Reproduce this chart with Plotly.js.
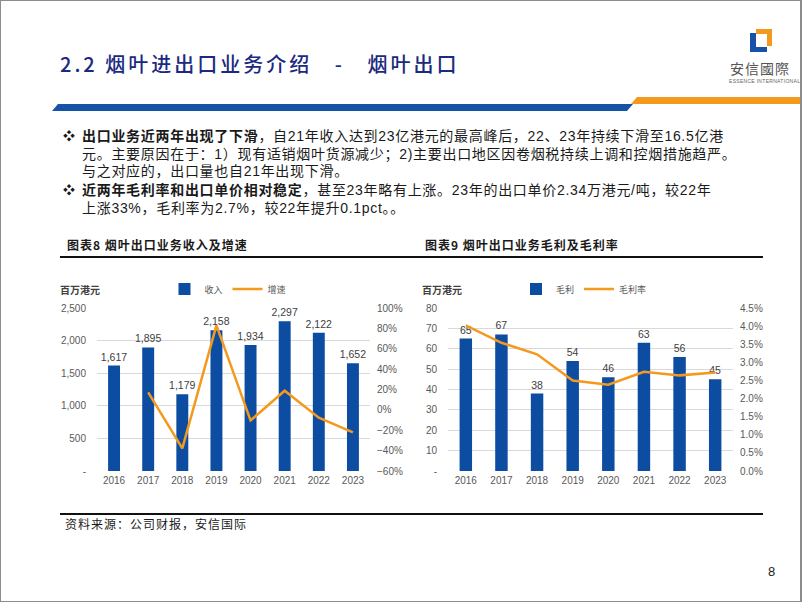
<!DOCTYPE html>
<html>
<head>
<meta charset="utf-8">
<script src="https://cdn.plot.ly/plotly-3.0.1.min.js"></script>
<style>
  html, body { margin: 0; padding: 0; background: #fff; }
  #slide { position: relative; width: 802px; height: 602px; overflow: hidden;
    font-family: "Liberation Sans", "Noto Sans CJK SC", sans-serif; box-sizing: border-box; }
  #frame { position: absolute; left: 0; top: 0; width: 802px; height: 602px; box-sizing: border-box;
    border: 1px solid #8c8c8c; border-right-width: 2px; pointer-events: none; }
  #chart { position: absolute; left: 0; top: 0; width: 802px; height: 602px; }
  .abs { position: absolute; white-space: nowrap; }
  #title { left: 60px; top: 49px; font-size: 20px; color: #1b2a80; font-family: "Noto Sans CJK SC", sans-serif;
    letter-spacing: 3px; font-weight: 500; }
  #blueBar { left: 52px; top: 104px; width: 581px; height: 7px; background: #1552a8;
    clip-path: polygon(6px 0, 100% 0, calc(100% - 6px) 100%, 0 100%); }
  #orangeBar { left: 631px; top: 97px; width: 171px; height: 7px; background: #f39a1e;
    clip-path: polygon(6px 0, 100% 0, 100% 100%, 0 100%); }
  .logoB { position: absolute; background: #1552a8; }
  .logoO { position: absolute; background: #f39a1e; }
  #logoTxt { left: 730px; top: 60px; font-size: 14px; line-height: 16px; color: #555;
    font-family: "Noto Sans CJK TC", sans-serif; letter-spacing: 1px; }
  #logoSub { left: 729px; top: 78px; font-size: 5px; line-height: 6px; color: #666; letter-spacing: 0.3px; }
  .bullets { left: 63px; font-size: 14px; line-height: 17px; color: #1a1a1a; letter-spacing: 0.7px; }
  .bullets .mk { display: inline-block; width: 19px; letter-spacing: 0; font-size: 12px; }
  .bullets .ind { display: inline-block; width: 19px; }
  .bullets b { font-family: "Noto Sans CJK SC", sans-serif; font-weight: 700; }
  .head { font-size: 12px; font-weight: 700; color: #1a1a1a; letter-spacing: 1px; font-family: "Noto Sans CJK SC", sans-serif; }
  #rule1 { left: 60px; top: 256px; width: 703px; height: 1.5px; background: #111; }
  #rule2 { left: 60px; top: 513px; width: 703px; height: 1.5px; background: #111; }
  #source { left: 65px; top: 515px; font-size: 12px; color: #1a1a1a; letter-spacing: 1px; font-family: "Noto Sans CJK SC", sans-serif; }
  #page { left: 768px; top: 564px; font-size: 13px; color: #222; }
</style>
</head>
<body>
<div id="slide">
  <div id="chart"></div>

  <div class="abs" id="title">2.2 烟叶进出口业务介绍&nbsp;&nbsp;&nbsp;-&nbsp;&nbsp;&nbsp;烟叶出口</div>
  <div class="abs" id="blueBar"></div>
  <div class="abs" id="orangeBar"></div>

  <div class="logoO" style="left:756px;top:29px;width:16px;height:5px;"></div>
  <div class="logoO" style="left:767px;top:29px;width:5px;height:17px;"></div>
  <div class="logoB" style="left:750px;top:33px;width:6px;height:19px;"></div>
  <div class="logoB" style="left:750px;top:47px;width:17px;height:5px;"></div>
  <div class="abs" id="logoTxt">安信國際</div>
  <div class="abs" id="logoSub">ESSENCE INTERNATIONAL</div>

  <div class="abs bullets" style="top:127px;">
    <span class="mk">❖</span><b>出口业务近两年出现了下滑</b>，自21年收入达到23亿港元的最高峰后，22、23年持续下滑至16.5亿港<br>
    <span class="ind"></span>元。主要原因在于：1）现有适销烟叶货源减少；2)主要出口地区因卷烟税持续上调和控烟措施趋严。<br>
    <span class="ind"></span>与之对应的，出口量也自21年出现下滑。
  </div>
  <div class="abs bullets" style="top:181px;">
    <span class="mk">❖</span><b>近两年毛利率和出口单价相对稳定</b>，甚至23年略有上涨。23年的出口单价2.34万港元/吨，较22年<br>
    <span class="ind"></span>上涨33%，毛利率为2.7%，较22年提升0.1pct。。
  </div>

  <div class="abs head" style="left:67px;top:236px;">图表8 烟叶出口业务收入及增速</div>
  <div class="abs head" style="left:425px;top:236px;">图表9 烟叶出口业务毛利及毛利率</div>
  <div class="abs" id="rule1"></div>

  <div class="abs" id="rule2"></div>
  <div class="abs" id="source">资料来源：公司财报，安信国际</div>
  <div class="abs" id="page">8</div>
  <div id="frame"></div>
</div>

<script>
// years shared by both charts
const years = ['2016', '2017', '2018', '2019', '2020', '2021', '2022', '2023'];

// chart 8: export revenue (HKD mn) and growth (%)
const revenue = [1617, 1895, 1179, 2158, 1934, 2297, 2122, 1652];
const growth = [null, 17.2, -37.8, 83.0, -10.4, 18.8, -7.6, -22.1];
const revTicks = [0, 500, 1000, 1500, 2000, 2500];
const revTickText = ['-', '500', '1,000', '1,500', '2,000', '2,500'];

// chart 9: gross profit (HKD mn) and gross margin (%)
const grossProfit = [65, 67, 38, 54, 46, 63, 56, 45];
const grossMargin = [4.02, 3.54, 3.22, 2.50, 2.38, 2.74, 2.64, 2.72];
const gpTicks = [0, 10, 20, 30, 40, 50, 60, 70, 80];
const gpTickText = ['-', '10', '20', '30', '40', '50', '60', '70', '80'];

const blue = '#0d4da1';
const orange = '#f39a1e';
const tickFont = { family: 'Liberation Sans, Noto Sans CJK SC, sans-serif', size: 10, color: '#595959' };
const cjkSmall = { family: 'Noto Sans CJK SC, sans-serif', size: 9, color: '#595959' };
const labelFont = { family: 'Liberation Sans, sans-serif', size: 10.5, color: '#404040' };

let data = [
  {
    type: 'bar', name: '收入', x: years, y: revenue, xaxis: 'x', yaxis: 'y',
    marker: { color: blue }, texttemplate: '%{y:,}', textposition: 'outside',
    textfont: labelFont, constraintext: 'none', cliponaxis: false, legend: 'legend'
  },
  {
    type: 'scatter', mode: 'lines', name: '增速', x: years, y: growth, xaxis: 'x', yaxis: 'y2',
    line: { color: orange, width: 2.5 }, connectgaps: false, legend: 'legend'
  },
  {
    type: 'bar', name: '毛利', x: years, y: grossProfit, xaxis: 'x2', yaxis: 'y3',
    marker: { color: blue }, texttemplate: '%{y}', textposition: 'outside',
    textfont: labelFont, constraintext: 'none', cliponaxis: false, legend: 'legend2'
  },
  {
    type: 'scatter', mode: 'lines', name: '毛利率', x: years, y: grossMargin, xaxis: 'x2', yaxis: 'y4',
    line: { color: orange, width: 2.5 }, legend: 'legend2'
  }
];

function xAxis(domain, anchor) {
  return {
    domain: domain, anchor: anchor, type: 'category', showgrid: false, zeroline: false,
    showline: false, ticks: '', tickfont: tickFont, ticklabelstandoff: 2, fixedrange: true
  };
}

let layout = {
  width: 802, height: 602,
  margin: { l: 0, r: 0, t: 0, b: 0 },
  paper_bgcolor: 'rgba(0,0,0,0)', plot_bgcolor: 'rgba(0,0,0,0)',
  showlegend: true,
  bargap: 0.65,
  xaxis: xAxis([97 / 802, 370 / 802], 'y'),
  yaxis: {
    domain: [1 - 471 / 602, 1 - 308 / 602], anchor: 'x', range: [0, 2500],
    tickvals: revTicks, ticktext: revTickText, showgrid: true, gridcolor: '#d9d9d9', gridwidth: 1,
    zeroline: false, showline: false, ticks: '', tickfont: tickFont, ticklabelstandoff: 10
  },
  yaxis2: {
    overlaying: 'y', side: 'right', anchor: 'x', range: [-60, 100], dtick: 20, ticksuffix: '%',
    showgrid: false, zeroline: false, showline: false, ticks: '', tickfont: tickFont, ticklabelstandoff: 6
  },
  xaxis2: xAxis([448 / 802, 733 / 802], 'y3'),
  yaxis3: {
    domain: [1 - 471 / 602, 1 - 308 / 602], anchor: 'x2', range: [0, 80],
    tickvals: gpTicks, ticktext: gpTickText, showgrid: true, gridcolor: '#d9d9d9', gridwidth: 1,
    zeroline: false, showline: false, ticks: '', tickfont: tickFont, ticklabelstandoff: 10
  },
  yaxis4: {
    overlaying: 'y3', side: 'right', anchor: 'x2', range: [0, 4.5], dtick: 0.5, tickformat: '.1f',
    ticksuffix: '%', showgrid: false, zeroline: false, showline: false, ticks: '', tickfont: tickFont,
    ticklabelstandoff: 6
  },
  legend: {
    orientation: 'h', x: 228 / 802, xanchor: 'center', y: 1 - 289 / 602, yanchor: 'middle',
    font: cjkSmall, bgcolor: 'rgba(0,0,0,0)', itemwidth: 30, traceorder: 'normal'
  },
  legend2: {
    orientation: 'h', x: 584 / 802, xanchor: 'center', y: 1 - 289 / 602, yanchor: 'middle',
    font: cjkSmall, bgcolor: 'rgba(0,0,0,0)', itemwidth: 30, traceorder: 'normal'
  },
  annotations: [
    { text: '百万港元', xref: 'paper', yref: 'paper', x: 58 / 802, y: 1 - 290 / 602, xanchor: 'left',
      yanchor: 'middle', showarrow: false,
      font: { family: 'Noto Sans CJK SC, sans-serif', size: 10, color: '#404040', weight: 700 } },
    { text: '百万港元', xref: 'paper', yref: 'paper', x: 420 / 802, y: 1 - 290 / 602, xanchor: 'left',
      yanchor: 'middle', showarrow: false,
      font: { family: 'Noto Sans CJK SC, sans-serif', size: 10, color: '#404040', weight: 700 } }
  ]
};

Plotly.newPlot('chart', data, layout, { staticPlot: true, displayModeBar: false });
</script>
</body>
</html>
